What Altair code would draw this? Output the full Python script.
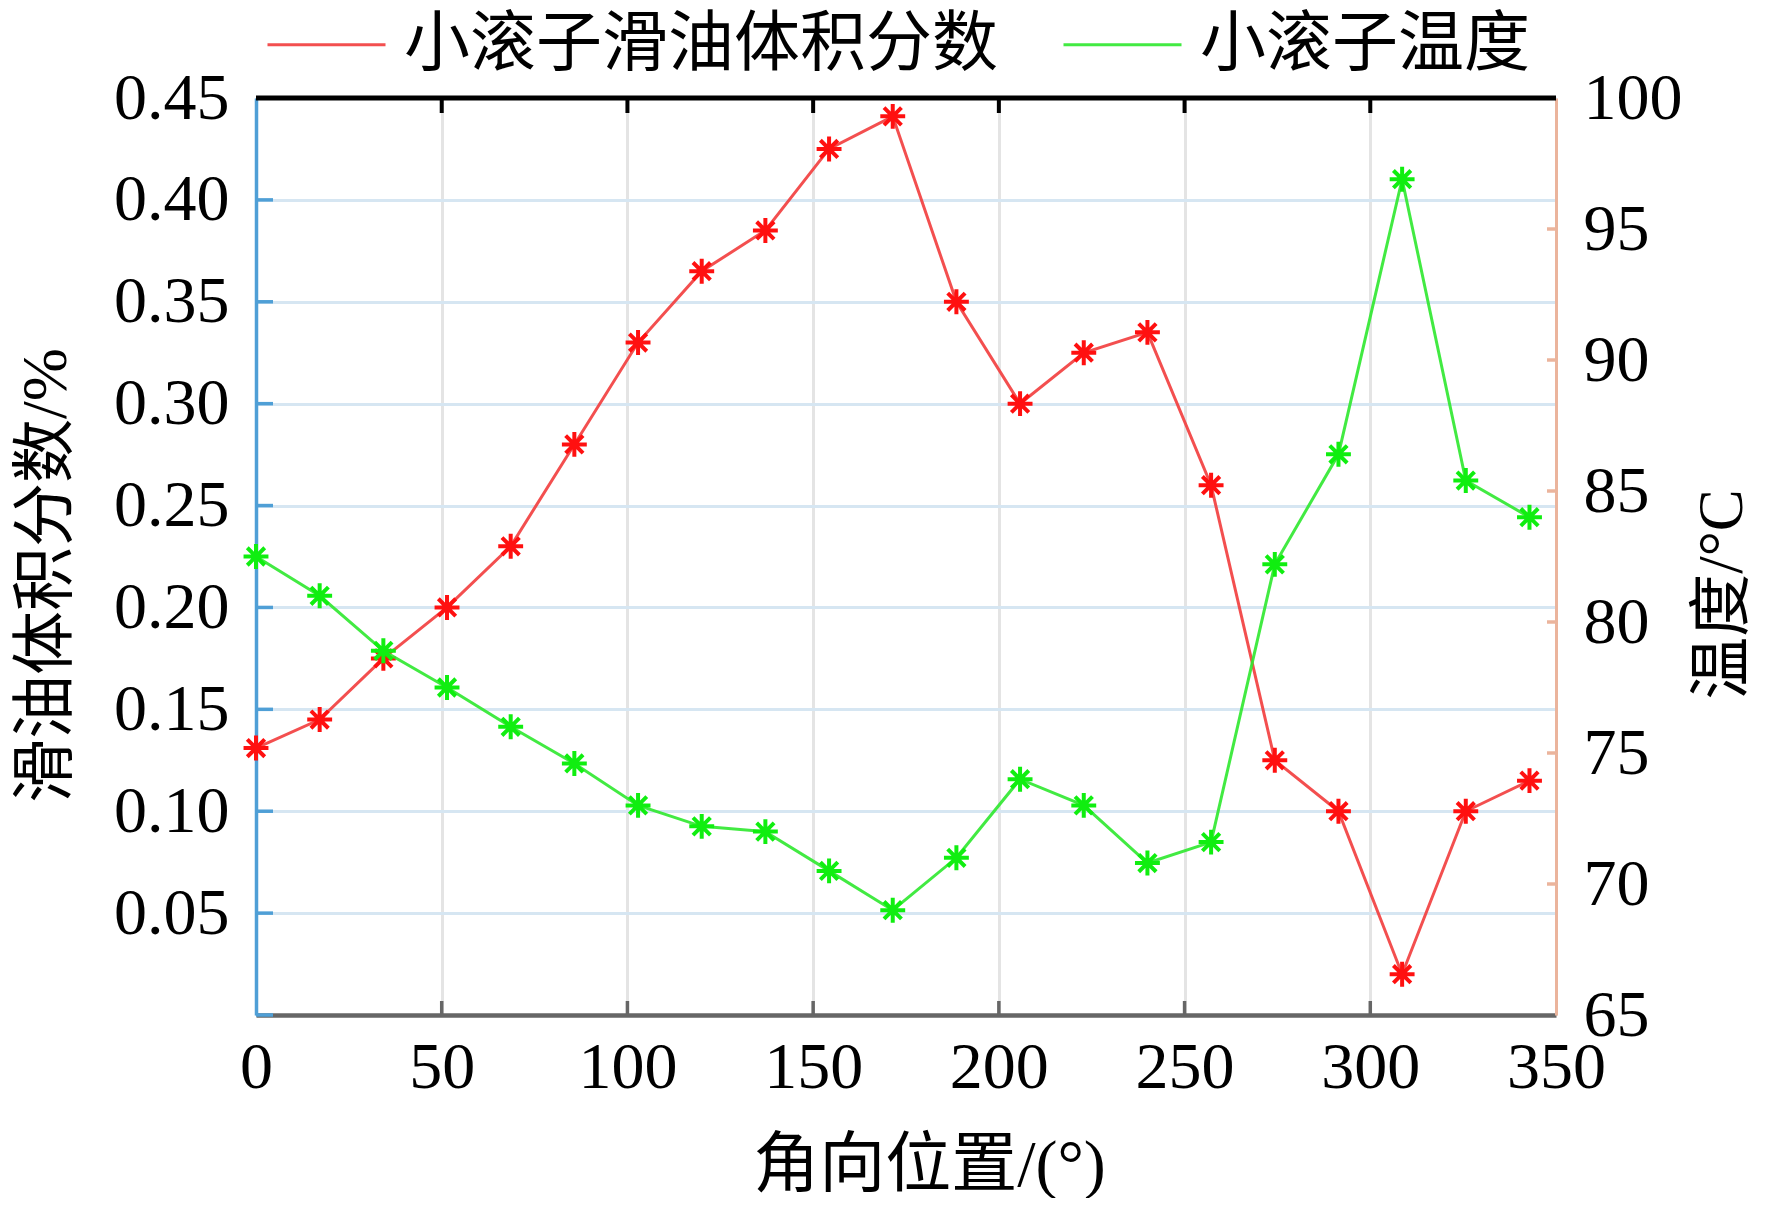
import altair as alt
import pandas as pd

# ---------------- data ----------------
angle = [0, 17.14, 34.29, 51.43, 68.57, 85.71, 102.86, 120, 137.14, 154.29, 171.43,
         188.57, 205.71, 222.86, 240, 257.14, 274.29, 291.43, 308.57, 325.71, 342.86]
oil_fraction = [0.131, 0.145, 0.175, 0.200, 0.230, 0.280, 0.330, 0.365, 0.385, 0.425, 0.441,
                0.350, 0.300, 0.325, 0.335, 0.260, 0.125, 0.100, 0.020, 0.100, 0.115]
temperature = [82.5, 81.0, 78.9, 77.5, 76.0, 74.6, 73.0, 72.2, 72.0, 70.5, 69.0,
               71.0, 74.0, 73.0, 70.8, 71.6, 82.2, 86.4, 96.9, 85.4, 84.0]
series_names = ["小滚子滑油体积分数", "小滚子温度"]
x_tick_values = [0, 50, 100, 150, 200, 250, 300, 350]
x_inner_ticks = [50, 100, 150, 200, 250, 300]
oil_tick_values = [0.05, 0.10, 0.15, 0.20, 0.25, 0.30, 0.35, 0.40, 0.45]
oil_inner_ticks = [0.0, 0.05, 0.10, 0.15, 0.20, 0.25, 0.30, 0.35, 0.40]
temp_tick_values = [65, 70, 75, 80, 85, 90, 95, 100]
temp_inner_ticks = [70, 75, 80, 85, 90, 95]

# ---------------- style ----------------
FONT = "Liberation Serif, Noto Sans CJK SC"
W, H = 1300, 917
RED_LINE = "#f23c3c"
RED = "#ff1010"
GREEN_LINE = "#2ee82e"
GREEN = "#10ee10"
BLUE = "#4f9fd6"
SALMON = "#ebb49c"
ASTERISK = "M-1,0L1,0M0,-1L0,1M-0.7,-0.7L0.7,0.7M-0.7,0.7L0.7,-0.7"

df_oil = pd.DataFrame({"angle": angle, "oil": oil_fraction, "series": series_names[0]})
df_temp = pd.DataFrame({"angle": angle, "temp": temperature, "series": series_names[1]})

x_scale = alt.Scale(domain=[0, 350], nice=False, zero=False)
oil_scale = alt.Scale(domain=[0, 0.45], nice=False, zero=False)
temp_scale = alt.Scale(domain=[65, 100], nice=False, zero=False)
color_scale = alt.Scale(domain=series_names, range=[RED_LINE, GREEN_LINE])

x_axis = alt.Axis(
    values=x_tick_values, title="角向位置/(°)", format="d",
    labelFont=FONT, labelFontSize=66, labelColor="black", labelPadding=20,
    labelFlush=False, ticks=False,
    domainColor="#666666", domainWidth=4.5,
    grid=True, gridColor="#e4e4e4", gridWidth=3,
    titleFont=FONT, titleFontSize=66, titleFontWeight="normal", titleColor="black",
    titleX=673, titleY=150, titleAlign="center", titleBaseline="middle",
)
oil_axis = alt.Axis(
    orient="left", values=oil_tick_values, format=".2f", title="滑油体积分数/%",
    labelFont=FONT, labelFontSize=66, labelColor="black", labelPadding=27,
    labelFlush=False, ticks=False,
    domainColor=BLUE, domainWidth=3.5,
    grid=True, gridColor="#d6e6f2", gridWidth=3,
    titleFont=FONT, titleFontSize=64, titleFontWeight="normal", titleColor="black",
    titleAngle=270, titleX=-210, titleY=477, titleAlign="center", titleBaseline="middle",
)
temp_axis = alt.Axis(
    orient="right", values=temp_tick_values, format="d", title="温度/°C",
    labelFont=FONT, labelFontSize=66, labelColor="black", labelPadding=27,
    labelFlush=False, ticks=False,
    domainColor=SALMON, domainWidth=3,
    grid=False,
    titleFont=FONT, titleFontSize=63, titleFontWeight="normal", titleColor="black",
    titleAngle=270, titleX=166, titleY=496, titleAlign="center", titleBaseline="middle",
)
legend = alt.Legend(
    orient="none", legendX=10, legendY=-114, direction="horizontal", title=None,
    symbolType="stroke", symbolSize=13924, symbolStrokeWidth=3,
    labelFont=FONT, labelFontSize=66, labelColor="black", labelOffset=17,
    labelLimit=2000, columnPadding=59, padding=0,
)

X = alt.X("angle:Q", scale=x_scale, axis=x_axis)
Y_OIL = alt.Y("oil:Q", scale=oil_scale, axis=oil_axis)
Y_TEMP = alt.Y("temp:Q", scale=temp_scale, axis=temp_axis)

# ---------------- left (oil) layers ----------------
red_line = alt.Chart(df_oil).mark_line(strokeWidth=3, opacity=0.9).encode(
    x=X, y=Y_OIL,
    color=alt.Color("series:N", scale=color_scale, legend=legend),
)
red_pts = alt.Chart(df_oil).mark_point(
    shape=ASTERISK, filled=False, color=RED, strokeWidth=4, size=620, opacity=1
).encode(x=X, y=Y_OIL)
left_ticks = alt.Chart(pd.DataFrame({"oil": oil_inner_ticks})).mark_rule(
    color=BLUE, strokeWidth=3.5
).encode(y=Y_OIL, x=alt.value(0), x2=alt.value(17))
top_ticks = alt.Chart(pd.DataFrame({"angle": x_inner_ticks})).mark_rule(
    color="black", strokeWidth=4
).encode(x=X, y=alt.value(0), y2=alt.value(15))
bottom_ticks = alt.Chart(pd.DataFrame({"angle": x_inner_ticks})).mark_rule(
    color="#666666", strokeWidth=3.5
).encode(x=X, y=alt.value(H), y2=alt.value(H - 14))
top_border = alt.Chart(pd.DataFrame({"a": [0]})).mark_rule(
    color="black", strokeWidth=5
).encode(x=alt.value(0), x2=alt.value(W), y=alt.value(0))

# ---------------- right (temperature) layers ----------------
green_line = alt.Chart(df_temp).mark_line(strokeWidth=3, opacity=0.9).encode(
    x=X, y=Y_TEMP,
    color=alt.Color("series:N", scale=color_scale, legend=legend),
)
green_pts = alt.Chart(df_temp).mark_point(
    shape=ASTERISK, filled=False, color=GREEN, strokeWidth=4, size=620, opacity=1
).encode(x=X, y=Y_TEMP)
right_ticks = alt.Chart(pd.DataFrame({"temp": temp_inner_ticks})).mark_rule(
    color=SALMON, strokeWidth=3.5
).encode(y=Y_TEMP, x=alt.value(W - 9), x2=alt.value(W))

left = alt.layer(red_line, red_pts, left_ticks, top_ticks, bottom_ticks, top_border)
right = alt.layer(green_line, green_pts, right_ticks)

chart = alt.layer(left, right).resolve_scale(y="independent").properties(
    width=W, height=H,
    autosize=alt.AutoSizeParams(type="none"),
    padding={"left": 248, "top": 90, "right": 208, "bottom": 183},
).configure_view(stroke=None).configure(background="white")

chart.save("out.html", embed_options={"renderer": "svg", "actions": False})
